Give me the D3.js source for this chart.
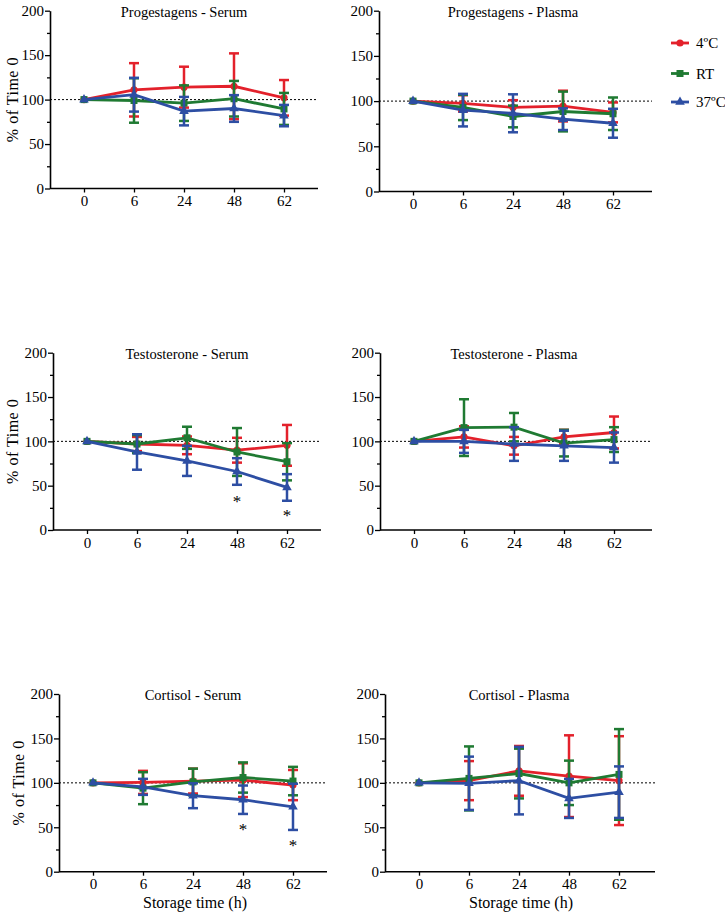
<!DOCTYPE html>
<html><head><meta charset="utf-8">
<script src="https://cdn.jsdelivr.net/npm/d3@7"></script>
<style>body{margin:0;background:#fff}svg{display:block}</style>
</head><body><svg id="c" width="725" height="918" style="font-family:'Liberation Serif','Times New Roman',serif"></svg>
<script>
const categories = ["0","6","24","48","62"];
const seriesNames = ["4ºC","RT","37ºC"];
const yTicks = [0,50,100,150,200];
const panelTitles = ["Progestagens - Serum","Progestagens - Plasma","Testosterone - Serum","Testosterone - Plasma","Cortisol - Serum","Cortisol - Plasma"];

// mean % of time 0, per series [4ºC, RT, 37ºC]
const progSerumMean = [[100,111,114,115,102],[100,99,96,101,89.5],[100,105.5,87,90,82]];
const progSerumSd   = [[0,30,23,37,20],[0,25,20,20,18],[0,19,16,15,12]];
const progPlasmaMean = [[100,97.5,93,94.5,87.5],[100,93,83,88.5,86],[100,90,86.5,80,75.5]];
const progPlasmaSd   = [[0,9,8,17,11],[0,14,12,22,18],[0,18,21,12,16]];
const testSerumMean = [[100,97,95.5,90,95.5],[100,97,104,88,77],[100,88,78,66,48]];
const testSerumSd   = [[0,8,10,14,23],[0,10,12.5,27,21],[0,20,17,15,15]];
const testPlasmaMean = [[100,105,95,105,110],[100,115.5,116,98,102],[100,100,97,95,93]];
const testPlasmaSd   = [[0,12,10,8,18],[0,32,16,15,14],[0,13,19,17,17]];
const cortSerumMean = [[100,100.5,102,103,97.5],[100,94,101,106,102],[100,95.5,85.5,81,73]];
const cortSerumSd   = [[0,13,14,19,17],[0,18,15,17,16],[0,9,14,16,26]];
const cortPlasmaMean = [[100,102.5,113.5,107.5,102.5],[100,105,110.5,100,109.5],[100,99.5,102.5,82.5,89.5]];
const cortPlasmaSd   = [[0,22,28,46,50],[0,36,28,25,51],[0,30,38,22,29]];

// significance markers: panel index, category, y value
const starPanels = [2,2,4,4];
const starCats = ["48","62","48","62"];
const starVals = [35,19,50,32];

const means = [progSerumMean,progPlasmaMean,testSerumMean,testPlasmaMean,cortSerumMean,cortPlasmaMean];
const sds = [progSerumSd,progPlasmaSd,testSerumSd,testPlasmaSd,cortSerumSd,cortPlasmaSd];

const colors = ["#e3212b","#1f7a32","#2d4ea3"];
const FONT = "'Liberation Serif','Times New Roman',serif";
const svg = d3.select("#c");

const layout = [
  {x0:50, x1:318, yt:10.7, yb:188.5, lab:36},
  {x0:379, x1:652, yt:10.7, yb:191.5, lab:0},
  {x0:53, x1:321, yt:352.7, yb:530, lab:39},
  {x0:380, x1:652, yt:352.7, yb:530, lab:0},
  {x0:59, x1:327, yt:694, yb:871.7, lab:39},
  {x0:385, x1:655, yt:694, yb:871.7, lab:0}
];

function marker(g, type, x, y, color){
  if(type===0){
    g.append("circle").attr("cx",x).attr("cy",y).attr("r",3.6).attr("fill",color);
  } else if(type===1){
    g.append("rect").attr("x",x-3.5).attr("y",y-3.5).attr("width",7).attr("height",7).attr("fill",color);
  } else {
    const s=d3.symbol().type(d3.symbolTriangle).size(40);
    g.append("path").attr("d",s()).attr("transform",`translate(${x},${y})`).attr("fill",color);
  }
}

layout.forEach((L,pi)=>{
  const g = svg.append("g");
  const x = d3.scalePoint().domain(categories).range([L.x0+34, L.x0+234]);
  const y = d3.scaleLinear().domain([0,200]).range([L.yb, L.yt]);

  g.append("g").attr("transform",`translate(${L.x0},0)`)
    .call(d3.axisLeft(y).tickValues([25,75,125,175]).tickSize(3).tickFormat(""))
    .call(a=>a.select(".domain").remove())
    .call(a=>a.selectAll("line").attr("stroke","#000").attr("stroke-width",1.3));
  const ya = g.append("g").attr("transform",`translate(${L.x0},0)`)
    .call(d3.axisLeft(y).tickValues(yTicks).tickSize(5).tickSizeOuter(0).tickPadding(1))
    .attr("font-family",FONT).attr("font-size",null);
  ya.select(".domain").attr("stroke","#000").attr("stroke-width",1.6);
  ya.selectAll("line").attr("stroke","#000").attr("stroke-width",1.3);
  ya.selectAll("text").attr("fill","#000").style("font-size","15px").style("font-family",FONT);

  const xa = g.append("g").attr("transform",`translate(0,${L.yb})`)
    .call(d3.axisBottom(x).tickSize(4).tickSizeOuter(0).tickPadding(3))
    .attr("font-family",FONT).attr("font-size",null);
  xa.select(".domain").attr("d",`M${L.x0},0H${L.x1}`).attr("stroke","#000").attr("stroke-width",1.6);
  xa.selectAll("line").attr("stroke","#000").attr("stroke-width",1.3);
  xa.selectAll("text").attr("fill","#000").style("font-size","15px").style("font-family",FONT);

  g.append("line").attr("x1",L.x0).attr("x2",L.x1).attr("y1",y(100)).attr("y2",y(100))
    .attr("stroke","#000").attr("stroke-width",1).attr("stroke-dasharray","2,2");

  g.append("text").attr("x",(x("0")+x("62"))/2).attr("y",L.yt+6).attr("text-anchor","middle")
    .style("font-family",FONT).style("font-size","14.5px").text(panelTitles[pi]);

  if(L.lab){
    g.append("text").attr("transform",`translate(${L.x0-L.lab},${(L.yt+L.yb)/2}) rotate(-90)`)
      .attr("text-anchor","middle").attr("dominant-baseline","middle")
      .style("font-family",FONT).style("font-size","16px").style("letter-spacing","0.5px").text("% of Time 0");
  }
  if(pi>=4){
    g.append("text").attr("x",(x("0")+x("62"))/2+2).attr("y",L.yb+36).attr("text-anchor","middle")
      .style("font-family",FONT).style("font-size","16px").text("Storage time (h)");
  }

  means[pi].forEach((m,si)=>{
    const c = colors[si];
    const sd = sds[pi][si];
    const sg = g.append("g");
    categories.forEach((cat,i)=>{
      if(sd[i]>0){
        const xx=x(cat), lo=y(m[i]-sd[i]), hi=y(m[i]+sd[i]);
        sg.append("line").attr("x1",xx).attr("x2",xx).attr("y1",lo).attr("y2",hi).attr("stroke",c).attr("stroke-width",2.5);
        [lo,hi].forEach(v=>sg.append("line").attr("x1",xx-5).attr("x2",xx+5).attr("y1",v).attr("y2",v).attr("stroke",c).attr("stroke-width",2.5));
      }
    });
    const line = d3.line().x((d,i)=>x(categories[i])).y(d=>y(d));
    sg.append("path").datum(m).attr("d",line).attr("fill","none").attr("stroke",c).attr("stroke-width",2.8);
    m.forEach((v,i)=>marker(sg,si,x(categories[i]),y(v),c));
  });

  starPanels.forEach((p,k)=>{
    if(p===pi){
      g.append("text").attr("x",x(starCats[k])).attr("y",y(starVals[k])+8).attr("text-anchor","middle")
        .style("font-family",FONT).style("font-size","17px").text("*");
    }
  });
});

const lg = svg.append("g");
seriesNames.forEach((n,i)=>{
  const yy=[43,73.5,102][i];
  lg.append("line").attr("x1",671).attr("x2",689).attr("y1",yy).attr("y2",yy).attr("stroke",colors[i]).attr("stroke-width",2.8);
  marker(lg,i,680,yy,colors[i]);
  lg.append("text").attr("x",696).attr("y",yy+5).style("font-family",FONT).style("font-size","15px").text(n);
});
</script></body></html>
